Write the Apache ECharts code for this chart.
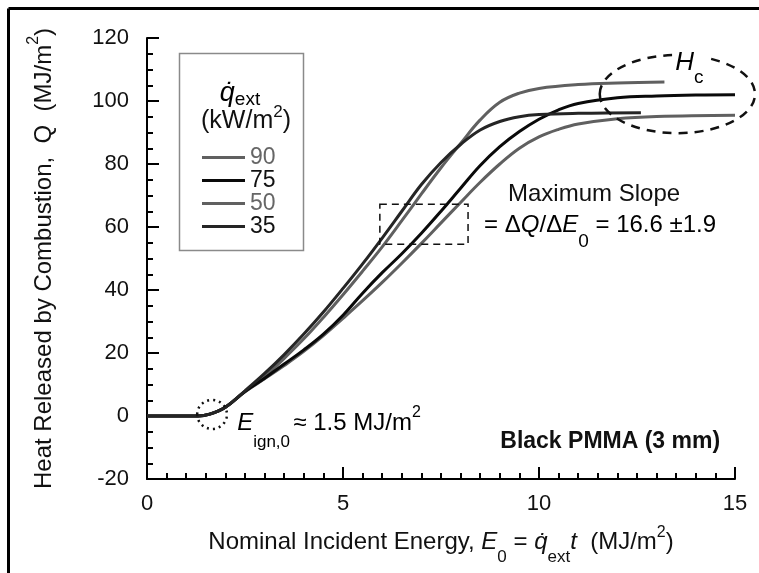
<!DOCTYPE html>
<html><head><meta charset="utf-8">
<script src="https://cdn.jsdelivr.net/npm/echarts@6/dist/echarts.min.js"></script>
<style>html,body{margin:0;padding:0;background:#fff}#c{width:759px;height:573px}</style>
</head><body><div id="c"></div>
<script>
const FONT = '"Liberation Sans", Arial, Helvetica, sans-serif';

// Legend / series names (external heat flux, kW/m2)
const seriesNames = ['90', '75', '50', '35'];
const lineColors = ['#606060', '#0a0a0a', '#606060', '#252525'];
const legendTextColors = ['#666666', '#111111', '#666666', '#111111'];

// Nominal incident energy E0 (MJ/m2) and heat released Q (MJ/m2)
const E90 = [0, 1.3, 1.6, 2.0, 2.5, 3.0, 3.5, 4.0, 4.5, 5.0, 5.5, 6.0, 6.5, 7.0, 7.5, 8.0, 8.5, 9.0, 9.5, 10.0, 11.0, 12.0, 13.2];
const Q90 = [0, 0, 0.6, 2.8, 7.8, 12.5, 18.3, 24.5, 31.3, 38.5, 46, 53.7, 62, 70.5, 78.8, 86.5, 94, 99.6, 102.5, 104, 105.2, 105.7, 106];

const E75 = [0, 1.3, 1.6, 2.0, 2.5, 3.0, 3.5, 4.0, 4.5, 5.0, 5.5, 6.0, 6.5, 7.0, 7.5, 8.0, 8.5, 9.0, 9.5, 10.0, 10.5, 11.0, 12.0, 13.0, 14.0, 15.0];
const Q75 = [0, 0, 0.6, 2.8, 7.8, 12, 16.5, 21, 26, 32, 39, 45.5, 51.5, 58, 65, 72.3, 79.5, 85.5, 90.3, 94.2, 97.2, 99.2, 101, 101.6, 101.9, 102];

const E50 = [0, 1.3, 1.6, 2.0, 2.5, 3.0, 3.5, 4.0, 4.5, 5.0, 5.5, 6.0, 6.5, 7.0, 7.5, 8.0, 8.5, 9.0, 9.5, 10.0, 10.5, 11.0, 12.0, 13.0, 15.0];
const Q50 = [0, 0, 0.6, 2.8, 7.7, 11.8, 16, 20.5, 25.5, 31, 36.6, 42.4, 48.5, 54.8, 61.3, 67.8, 74.2, 80, 85, 88.6, 91, 92.7, 94.4, 95.1, 95.5];

const E35 = [0, 1.3, 1.6, 2.0, 2.5, 3.0, 3.5, 4.0, 4.5, 5.0, 5.5, 6.0, 6.5, 7.0, 7.5, 8.0, 8.5, 9.0, 9.5, 10.0, 11.0, 12.6];
const Q35 = [0, 0, 0.6, 2.8, 8.0, 13.5, 19.5, 26, 33, 40.5, 48.3, 56.5, 65, 73.5, 80.5, 86.2, 90.8, 93.5, 95, 95.7, 96.1, 96.3];

// Axis ticks
const xTicks = [0, 5, 10, 15];
const yTicks = [-20, 0, 20, 40, 60, 80, 100, 120];

// Annotation anchors in data units
const slopeBox = [5.94, 54.5, 8.19, 67.2];
const hcEllipse = [13.53, 102.2, 1.98, 12.4];
const ignCircle = [1.66, 0.5, 0.38, 4.6];

const pairs = (xs, qs) => xs.map((x, i) => [x, qs[i]]);
const allData = [pairs(E90, Q90), pairs(E75, Q75), pairs(E50, Q50), pairs(E35, Q35)];

const txt = (size, extra) => Object.assign({fontSize: size, fontFamily: FONT, color: '#111'}, extra || {});
const gtxt = (size, extra) => Object.assign({fontSize: size, fontFamily: FONT, fill: '#111'}, extra || {});

const chart = echarts.init(document.getElementById('c'), null, {renderer: 'canvas'});

const option = {
  animation: false,
  backgroundColor: '#fff',
  grid: {left: 147, right: 24, top: 38, bottom: 94, outerBoundsMode: 'none', containLabel: false},
  xAxis: {
    type: 'value', min: xTicks[0], max: xTicks[xTicks.length - 1], interval: 5,
    axisLine: {onZero: false, lineStyle: {color: '#000', width: 2}},
    axisTick: {inside: true, length: 12, lineStyle: {color: '#000', width: 2}},
    minorTick: {show: true, splitNumber: 10, length: 6, lineStyle: {color: '#000', width: 2}},
    splitLine: {show: false},
    axisLabel: {fontSize: 22, fontFamily: FONT, color: '#111', margin: 14},
    name: 'Nominal Incident Energy, {i|E}{sub|0} = {i|q̇}{sub|ext}{i|t}  (MJ/m{sup|2})',
    nameLocation: 'middle', nameGap: 40,
    nameTextStyle: {
      fontSize: 24, fontFamily: FONT, color: '#111',
      rich: {
        i: txt(24, {fontStyle: 'italic'}),
        sub: txt(17, {padding: [30, 0, 0, 0]}),
        sup: txt(16, {padding: [0, 0, 20, 0]})
      }
    }
  },
  yAxis: {
    type: 'value', min: yTicks[0], max: yTicks[yTicks.length - 1], interval: 20,
    axisLine: {show: true, lineStyle: {color: '#000', width: 2}},
    axisTick: {show: true, inside: true, length: 12, lineStyle: {color: '#000', width: 2}},
    minorTick: {show: true, splitNumber: 4, length: 6, lineStyle: {color: '#000', width: 2}},
    splitLine: {show: false},
    axisLabel: {fontSize: 22, fontFamily: FONT, color: '#111', margin: 18},
    name: 'Heat Released by Combustion,  Q  (MJ/m{sup|2})',
    nameLocation: 'middle', nameGap: 85, nameRotate: 90,
    nameTextStyle: {
      fontSize: 24, fontFamily: FONT, color: '#111',
      rich: {sup: txt(16, {padding: [0, 0, 20, 0]})}
    }
  },
  legend: {
    orient: 'vertical', left: 202, top: 146, itemWidth: 43, itemHeight: 3, itemGap: 0,
    icon: 'rect', selectedMode: false, padding: 0,
    textStyle: {fontSize: 23, fontFamily: FONT, color: '#111', padding: [0, 0, 0, 0]},
    data: seriesNames.map((n, i) => ({name: n, itemStyle: {color: lineColors[i]}, textStyle: {color: legendTextColors[i]}}))
  },
  series: seriesNames.map((n, i) => ({
    type: 'line', name: n, data: allData[i], symbol: 'none', showSymbol: false,
    smooth: 0.4,
    lineStyle: {width: 3, color: lineColors[i]}, itemStyle: {color: lineColors[i]},
    z: i % 2 === 0 ? 2 : 3
  }))
};
chart.setOption(option);

function P(x, y) { return chart.convertToPixel({gridIndex: 0}, [x, y]); }

function buildGraphics() {
  const b0 = P(slopeBox[0], slopeBox[3]);
  const b1 = P(slopeBox[2], slopeBox[1]);
  const ec = P(hcEllipse[0], hcEllipse[1]);
  const er = P(hcEllipse[0] + hcEllipse[2], hcEllipse[1] - hcEllipse[3]);
  const ic = P(ignCircle[0], ignCircle[1]);
  const ir = P(ignCircle[0] + ignCircle[2], ignCircle[1] - ignCircle[3]);
  const tIgn = P(2.3, -2.4);
  const tMax = P(9.21, 70.4);
  const tEq = P(8.6, 60.6);
  const tPm = P(14.62, -8.1);
  const tHc = P(13.4, 112);
  const big = 24;
  const richAnn = {
    n: txt(big), i: txt(big, {fontStyle: 'italic'}),
    sub: txt(19, {padding: [34, 0, 0, 0]}),
    subs: txt(17, {padding: [38, 0, 0, 0]}),
    sup: txt(16, {padding: [0, 0, 22, 0]})
  };
  return [
    {type: 'line', shape: {x1: 8.5, y1: 8.5, x2: 759, y2: 8.5}, style: {stroke: '#000', lineWidth: 3}, silent: true},
    {type: 'line', shape: {x1: 8.5, y1: 8.5, x2: 8.5, y2: 573}, style: {stroke: '#000', lineWidth: 3}, silent: true},
    {type: 'rect', shape: {x: 179.5, y: 53.5, width: 124, height: 197}, style: {fill: 'none', stroke: '#8a8a8a', lineWidth: 1.5}, silent: true},
    {type: 'text', x: 240, y: 93, silent: true, style: {
      text: '{i|q̇}{sub|ext}', align: 'center', verticalAlign: 'middle',
      rich: {i: txt(27, {fontStyle: 'italic'}), sub: txt(19, {padding: [14, 0, 0, 0]})}}},
    {type: 'text', x: 246, y: 121, silent: true, style: gtxt(25, {
      text: '(kW/m{sup|2})', align: 'center', verticalAlign: 'middle',
      rich: {sup: txt(17, {padding: [0, 0, 18, 0]})}})},
    {type: 'rect', shape: {x: b0[0], y: b0[1], width: b1[0] - b0[0], height: b1[1] - b0[1]},
      style: {fill: 'none', stroke: '#111', lineWidth: 1.5, lineDash: [7, 5]}, silent: true, z: 5},
    {type: 'ellipse', shape: {cx: ec[0], cy: ec[1], rx: er[0] - ec[0], ry: er[1] - ec[1]},
      style: {fill: 'none', stroke: '#111', lineWidth: 2.5, lineDash: [9, 7]}, silent: true, z: 5},
    {type: 'ellipse', shape: {cx: ic[0], cy: ic[1], rx: ir[0] - ic[0], ry: ir[1] - ic[1]},
      style: {fill: 'none', stroke: '#111', lineWidth: 2.5, lineDash: [2, 4]}, silent: true, z: 5},
    {type: 'text', x: tHc[0], y: tHc[1], z: 6, silent: true, style: {
      text: '{i|H}{sub|c}', align: 'left', verticalAlign: 'middle', backgroundColor: '#fff', padding: [0, 3, 0, 3],
      rich: {i: txt(26, {fontStyle: 'italic'}), sub: txt(19, {padding: [30, 0, 0, 0]})}}},
    {type: 'text', x: tIgn[0], y: tIgn[1], z: 6, silent: true, style: {
      text: '{i|E}{subs|ign,0} {n|≈ 1.5 MJ/m}{sup|2}', align: 'left', verticalAlign: 'middle', rich: richAnn}},
    {type: 'text', x: tMax[0], y: tMax[1], z: 6, silent: true, style: gtxt(big, {
      text: 'Maximum Slope', align: 'left', verticalAlign: 'middle'})},
    {type: 'text', x: tEq[0], y: tEq[1], z: 6, silent: true, style: {
      text: '{n|= Δ}{i|Q}{n|/Δ}{i|E}{sub|0}{n| = 16.6 ±1.9}', align: 'left', verticalAlign: 'middle', rich: richAnn}},
    {type: 'text', x: tPm[0], y: tPm[1], z: 6, silent: true, style: gtxt(23, {
      text: 'Black PMMA (3 mm)', align: 'right', verticalAlign: 'middle', fontWeight: 'bold'})}
  ];
}
chart.setOption({graphic: buildGraphics()});
</script>
</body></html>
